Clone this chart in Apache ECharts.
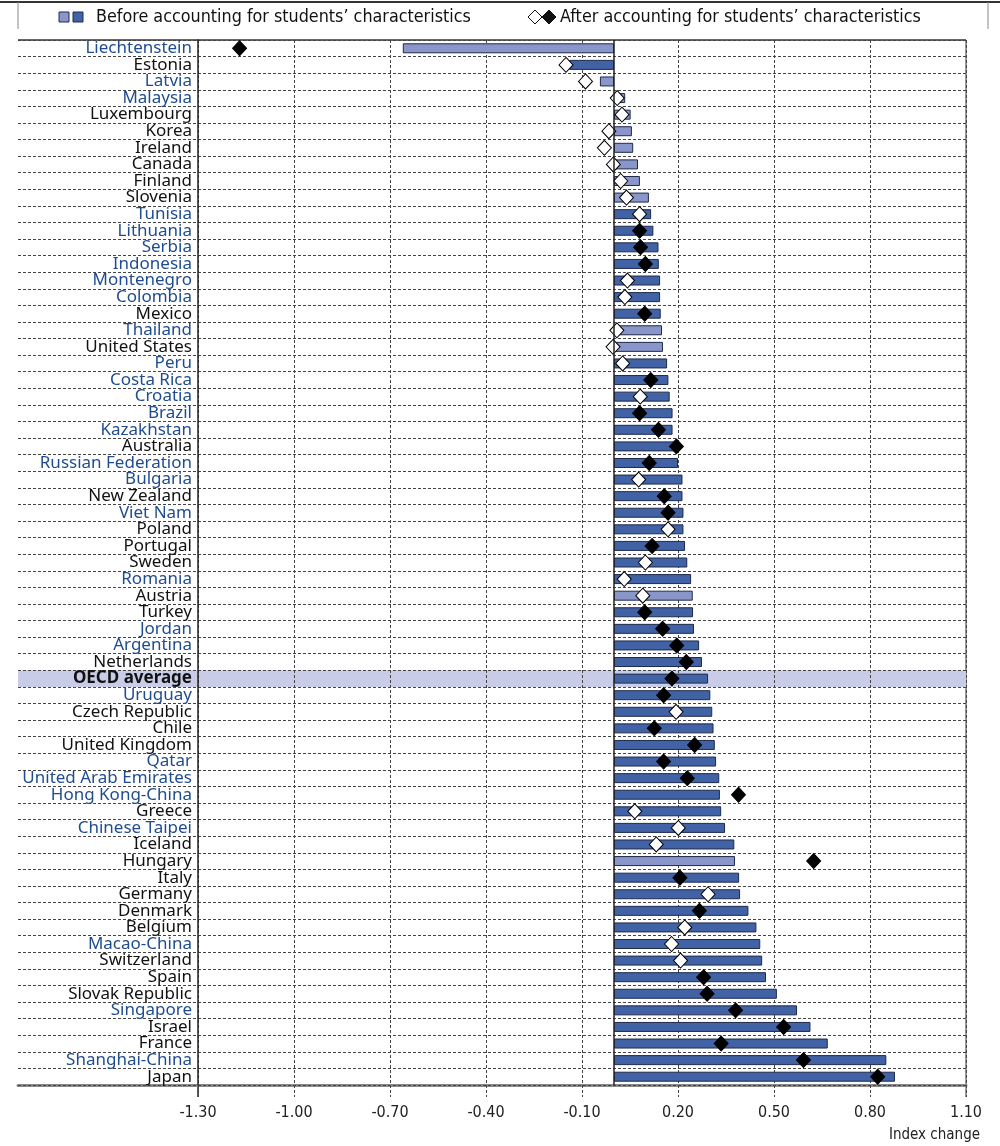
<!DOCTYPE html>
<html>
<head>
<meta charset="utf-8">
<script src="https://cdn.jsdelivr.net/npm/echarts@6/dist/echarts.min.js"></script>
<style>
  html, body { margin: 0; padding: 0; background: #fff; }
  #chart { width: 1000px; height: 1146px; }
</style>
</head>
<body>
<div id="chart"></div>
<script>
// countries, top to bottom
const countries = [
  'Liechtenstein', 'Estonia', 'Latvia', 'Malaysia', 'Luxembourg', 'Korea', 'Ireland',
  'Canada', 'Finland', 'Slovenia', 'Tunisia', 'Lithuania', 'Serbia', 'Indonesia',
  'Montenegro', 'Colombia', 'Mexico', 'Thailand', 'United States', 'Peru', 'Costa Rica',
  'Croatia', 'Brazil', 'Kazakhstan', 'Australia', 'Russian Federation', 'Bulgaria',
  'New Zealand', 'Viet Nam', 'Poland', 'Portugal', 'Sweden', 'Romania', 'Austria',
  'Turkey', 'Jordan', 'Argentina', 'Netherlands', 'OECD average', 'Uruguay',
  'Czech Republic', 'Chile', 'United Kingdom', 'Qatar', 'United Arab Emirates',
  'Hong Kong-China', 'Greece', 'Chinese Taipei', 'Iceland', 'Hungary', 'Italy',
  'Germany', 'Denmark', 'Belgium', 'Macao-China', 'Switzerland', 'Spain',
  'Slovak Republic', 'Singapore', 'Israel', 'France', 'Shanghai-China', 'Japan',
];

// partner economies get blue labels
const partners = [
  'Liechtenstein', 'Latvia', 'Malaysia', 'Tunisia', 'Lithuania', 'Serbia', 'Indonesia',
  'Montenegro', 'Colombia', 'Thailand', 'Peru', 'Costa Rica', 'Croatia', 'Brazil',
  'Kazakhstan', 'Russian Federation', 'Bulgaria', 'Viet Nam', 'Romania', 'Jordan',
  'Argentina', 'Uruguay', 'Qatar', 'United Arab Emirates', 'Hong Kong-China',
  'Chinese Taipei', 'Macao-China', 'Singapore', 'Shanghai-China',
];

// before accounting for students' characteristics (bars)
const beforeValues = [
  -0.66, -0.14, -0.044, 0.035, 0.052, 0.056, 0.060, 0.075, 0.081, 0.109,
  0.116, 0.123, 0.139, 0.140, 0.144, 0.144, 0.146, 0.150, 0.153, 0.166,
  0.170, 0.174, 0.183, 0.183, 0.200, 0.200, 0.214, 0.214, 0.217, 0.217,
  0.222, 0.229, 0.241, 0.246, 0.247, 0.250, 0.266, 0.275, 0.294, 0.301,
  0.307, 0.311, 0.315, 0.319, 0.329, 0.331, 0.335, 0.347, 0.376, 0.378,
  0.391, 0.394, 0.420, 0.445, 0.457, 0.463, 0.475, 0.509, 0.572, 0.614,
  0.668, 0.851, 0.878,
];
const beforeSignificant = [
  0, 1, 0, 0, 0, 0, 0, 0, 0, 0,
  1, 1, 1, 1, 1, 1, 1, 0, 0, 1,
  1, 1, 1, 1, 1, 1, 1, 1, 1, 1,
  1, 1, 1, 0, 1, 1, 1, 1, 1, 1,
  1, 1, 1, 1, 1, 1, 1, 1, 1, 0,
  1, 1, 1, 1, 1, 1, 1, 1, 1, 1,
  1, 1, 1,
];

// after accounting for students' characteristics (diamonds)
const afterValues = [
  -1.17, -0.15, -0.089, 0.010, 0.025, -0.016, -0.030, -0.002, 0.021, 0.039,
  0.080, 0.080, 0.083, 0.098, 0.042, 0.034, 0.096, 0.009, -0.003, 0.027,
  0.115, 0.082, 0.080, 0.139, 0.195, 0.110, 0.077, 0.157, 0.169, 0.169,
  0.119, 0.098, 0.032, 0.090, 0.096, 0.152, 0.196, 0.226, 0.181, 0.155,
  0.194, 0.126, 0.252, 0.155, 0.229, 0.389, 0.065, 0.201, 0.132, 0.624,
  0.206, 0.294, 0.267, 0.221, 0.180, 0.208, 0.280, 0.291, 0.380, 0.530,
  0.335, 0.592, 0.824,
];
const afterSignificant = [
  1, 0, 0, 0, 0, 0, 0, 0, 0, 0,
  0, 1, 1, 1, 0, 0, 1, 0, 0, 0,
  1, 0, 1, 1, 1, 1, 0, 1, 1, 0,
  1, 0, 0, 0, 1, 1, 1, 1, 1, 1,
  0, 1, 1, 1, 1, 1, 0, 0, 0, 1,
  1, 0, 1, 0, 0, 0, 1, 1, 1, 1,
  1, 1, 1,
];

const BAR_DARK = '#4262a6';
const BAR_LIGHT = '#8a96c9';
const BAR_EDGE = '#1d2a4c';
const BLUE_TEXT = '#1f4c8f';
const BAND = '#c9cce6';
const LABEL_FONT = "'Noto Sans', sans-serif";
const NARROW_FONT = "'Liberation Sans Narrow', 'DejaVu Sans Condensed', sans-serif";

const chart = echarts.init(document.getElementById('chart'));

const barData = beforeValues.map((v, i) => ({
  value: v,
  itemStyle: { color: beforeSignificant[i] ? BAR_DARK : BAR_LIGHT },
}));

const diamondData = afterValues.map((v, i) => ({
  value: [v, countries[i]],
  itemStyle: afterSignificant[i]
    ? { color: '#000', borderColor: '#000', borderWidth: 1, opacity: 1 }
    : { color: '#fff', borderColor: '#000', borderWidth: 1, opacity: 1 },
}));

// full-width highlight for the OECD average row
const bandData = countries.map((c) => (c === 'OECD average' ? 1 : 0));

const dashed = { color: '#444', type: [3, 2], width: 1 };

const option = {
  backgroundColor: '#fff',
  animation: false,
  grid: [
    { left: 18, right: 34, top: 40, bottom: 61 },
    { left: 198, right: 34, top: 40, bottom: 61 },
  ],
  xAxis: [
    {
      gridIndex: 0, type: 'value', min: 0, max: 1, show: true,
      axisLine: { show: true, lineStyle: { color: '#8a8a8a', width: 3 } },
      axisTick: { show: false }, axisLabel: { show: false }, splitLine: { show: false },
    },
    {
      gridIndex: 1, type: 'value', min: -1.3, max: 1.1, interval: 0.3, z: 1.5,
      axisLine: { show: false },
      axisTick: { show: true, length: 12, lineStyle: dashed },
      axisLabel: {
        margin: 20, fontSize: 16, fontFamily: NARROW_FONT, color: '#222',
        formatter: (v) => v.toFixed(2),
      },
      splitLine: { show: true, lineStyle: dashed },
    },
  ],
  yAxis: [
    {
      gridIndex: 0, type: 'category', data: countries, inverse: true, z: 1.5,
      axisLine: { show: false }, axisTick: { show: false }, axisLabel: { show: false },
      splitLine: { show: true, interval: 0, lineStyle: dashed },
    },
    {
      gridIndex: 1, type: 'category', data: countries, inverse: true, z: 3,
      axisLine: { show: true, onZero: false, lineStyle: { color: '#222', width: 1.5 } },
      axisTick: { show: false },
      splitLine: { show: false },
      axisLabel: {
        interval: 0,
        margin: 6,
        fontFamily: LABEL_FONT,
        fontSize: 17,
        formatter: (name) => {
          if (name === 'OECD average') return '{o|' + name + '}';
          return (partners.includes(name) ? '{p|' : '{c|') + name + '}';
        },
        rich: {
          p: { color: BLUE_TEXT, fontFamily: LABEL_FONT, fontSize: 17 },
          c: { color: '#111', fontFamily: LABEL_FONT, fontSize: 17 },
          o: { color: '#111', fontFamily: LABEL_FONT, fontSize: 17, fontWeight: 'bold' },
        },
      },
    },
  ],
  series: [
    {
      name: 'band', type: 'bar', xAxisIndex: 0, yAxisIndex: 0, z: 1,
      data: bandData, barWidth: '100%', silent: true,
      itemStyle: { color: BAND },
    },
    {
      name: 'Before accounting for students\u2019 characteristics',
      type: 'bar', xAxisIndex: 1, yAxisIndex: 1, z: 2,
      data: barData, barWidth: 10,
      itemStyle: { borderColor: BAR_EDGE, borderWidth: 1 },
      markLine: {
        silent: true, symbol: 'none', label: { show: false },
        lineStyle: { color: '#222', type: 'solid', width: 1.5 },
        data: [{ xAxis: 0 }],
      },
    },
    {
      name: 'After accounting for students\u2019 characteristics',
      type: 'scatter', xAxisIndex: 1, yAxisIndex: 1, z: 4,
      symbol: 'diamond', symbolSize: [14, 15],
      itemStyle: { opacity: 1 },
      data: diamondData,
    },
  ],
  graphic: [
    // frame
    { type: 'line', shape: { x1: 0, y1: 2, x2: 1000, y2: 2 }, style: { stroke: '#333', lineWidth: 2 } },
    { type: 'line', shape: { x1: 18, y1: 2, x2: 18, y2: 29 }, style: { stroke: '#888', lineWidth: 1 } },
    { type: 'line', shape: { x1: 988, y1: 2, x2: 988, y2: 29 }, style: { stroke: '#888', lineWidth: 1 } },
    { type: 'line', shape: { x1: 18, y1: 40, x2: 966, y2: 40 }, style: { stroke: '#333', lineWidth: 1.5 } },
    { type: 'line', shape: { x1: 966, y1: 40, x2: 966, y2: 1097 }, style: { stroke: '#333', lineWidth: 1 } },
    { type: 'line', shape: { x1: 198, y1: 1085, x2: 198, y2: 1097 }, style: { stroke: '#222', lineWidth: 1.5 } },
    // legend
    { type: 'rect', shape: { x: 59, y: 12, width: 10, height: 10 }, style: { fill: BAR_LIGHT, stroke: BAR_EDGE, lineWidth: 1 } },
    { type: 'rect', shape: { x: 73, y: 12, width: 10, height: 10 }, style: { fill: BAR_DARK, stroke: BAR_EDGE, lineWidth: 1 } },
    {
      type: 'text', left: 96, top: 8,
      style: { text: 'Before accounting for students\u2019 characteristics', font: "17.8px 'Liberation Sans Narrow', 'DejaVu Sans Condensed', sans-serif", fill: '#111' },
    },
    { type: 'polygon', shape: { points: [[535, 10], [542, 17], [535, 24], [528, 17]] }, style: { fill: '#fff', stroke: '#111', lineWidth: 1 } },
    { type: 'polygon', shape: { points: [[549, 10], [556, 17], [549, 24], [542, 17]] }, style: { fill: '#111', stroke: '#111', lineWidth: 1 } },
    {
      type: 'text', left: 560, top: 8,
      style: { text: 'After accounting for students\u2019 characteristics', font: "17.8px 'Liberation Sans Narrow', 'DejaVu Sans Condensed', sans-serif", fill: '#111' },
    },
    {
      type: 'text', right: 20, top: 1128,
      style: { text: 'Index change', font: "15px 'Liberation Sans Narrow', 'DejaVu Sans Condensed', sans-serif", fill: '#222' },
    },
  ],
};

chart.setOption(option);
</script>
</body>
</html>
